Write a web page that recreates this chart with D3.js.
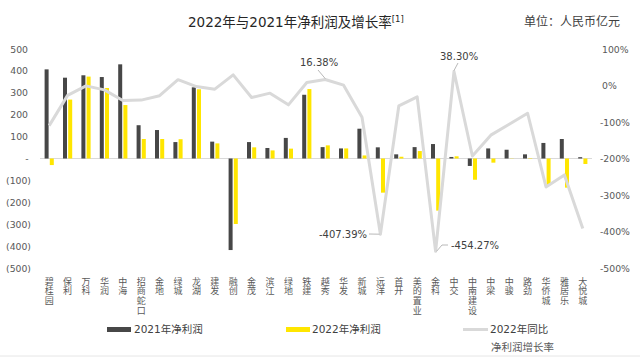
<!DOCTYPE html>
<html><head><meta charset="utf-8">
<script src="https://cdn.jsdelivr.net/npm/d3@7/dist/d3.min.js"></script>
<style>body{margin:0;background:#fff}svg{display:block}</style>
</head><body><svg id="c" width="640" height="357"></svg>
<script>
const categories = ["碧桂园","保利","万科","华润","中海","招商蛇口","金地","绿城","龙湖","建发","融创","金茂","滨江","绿地","铁建","越秀","华发","新城","远洋","首开","美的置业","金科","中交","中南建设","中梁","中骏","路劲","华侨城","雅居乐","大悦城"];
const profit2021 = [407,369,380,372,430,152,130,75,325,77,-418,75,48,94,291,52,46,136,51,19,52,66,7,-34,46,40,19,71,89,6];
const profit2022 = [-30,269,374,322,244,89,89,88,316,69,-299,51,37,45,317,60,46,14,-156,8,34,-238,10,-97,-19,-1,-2,-120,-133,-25];
const growth2022 = [-110,-27,-1,-12,-41,-40,-28,16,-3,-10,29,-33,-21,-53,8,16.38,1,-87,-407.39,-56,-31,-454.27,38.30,-193,-136,-106,-76,-278,-245,-392];
const leftTicks = [500,400,300,200,100,0,-100,-200,-300,-400,-500];
const rightTicks = [100,0,-100,-200,-300,-400,-500];

const svg = d3.select("#c");
const FONT = "'DejaVu Sans', Verdana, 'Noto Sans CJK SC', sans-serif";
const CJK = "'Noto Sans CJK SC', sans-serif";
const x = d3.scaleBand().domain(categories).range([40, 592]).padding(0);
const yL = d3.scaleLinear().domain([-500, 500]).range([268, 49]);
const yR = d3.scaleLinear().domain([-500, 100]).range([268, 49]);
const cx = d => x(d) + x.bandwidth()/2;

// title
svg.append("text").attr("x", 188).attr("y", 26.5).attr("font-family", FONT).attr("font-size", 13.5).attr("fill", "#262626")
  .text("2022年与2021年净利润及增长率")
  .append("tspan").attr("dy", -5).attr("font-size", 8.5).text("[1]");
svg.append("text").attr("x", 620).attr("y", 26).attr("text-anchor", "end").attr("font-family", CJK).attr("font-size", 12).attr("fill", "#404040")
  .text("单位：人民币亿元");

// left axis labels
const fmtL = v => v === 0 ? "-" : (v < 0 ? `(${-v})` : `${v}`);
svg.append("g").selectAll("text").data(leftTicks).join("text")
  .attr("x", d => d === 0 ? 27 : (d < 0 ? 31 : 28))
  .attr("y", d => yL(d) + 3.5)
  .attr("text-anchor", d => d === 0 ? "middle" : "end")
  .attr("font-family", FONT).attr("font-size", 9.3).attr("fill", "#595959")
  .text(fmtL);

// right axis labels
svg.append("g").selectAll("text").data(rightTicks).join("text")
  .attr("x", d => d < 0 ? 600 : 602)
  .attr("y", d => yR(d) + 3.5)
  .attr("font-family", FONT).attr("font-size", 9.3).attr("fill", "#595959")
  .text(d => d + "%");

// baseline
svg.append("line").attr("x1", 40).attr("x2", 592).attr("y1", yL(0)).attr("y2", yL(0))
  .attr("stroke", "#d9d9d9").attr("stroke-width", 1);

// bars
svg.append("g").selectAll("rect").data(categories).join("rect")
  .attr("x", d => cx(d) - 4.6).attr("width", 4)
  .attr("y", (d,i) => Math.min(yL(profit2021[i]), yL(0)))
  .attr("height", (d,i) => Math.abs(yL(profit2021[i]) - yL(0)))
  .attr("fill", "#474747");
svg.append("g").selectAll("rect").data(categories).join("rect")
  .attr("x", d => cx(d) + 0.6).attr("width", 4)
  .attr("y", (d,i) => Math.min(yL(profit2022[i]), yL(0)))
  .attr("height", (d,i) => Math.abs(yL(profit2022[i]) - yL(0)))
  .attr("fill", "#ffe600");

// line
const line = d3.line().x((d,i) => cx(categories[i])).y(d => yR(d));
svg.append("path").datum(growth2022).attr("d", line)
  .attr("fill", "none").attr("stroke", "#d9d9d9").attr("stroke-width", 3).attr("stroke-linejoin", "round");

// data labels
const lab = svg.append("g").attr("font-family", FONT).attr("font-size", 10).attr("fill", "#404040");
function leader(pts){ lab.append("path").attr("d", d3.line()(pts)).attr("fill","none").attr("stroke","#a6a6a6").attr("stroke-width",0.8); }
{
  const px = cx(categories[15]), py = yR(growth2022[15]);
  lab.append("text").attr("x", 300).attr("y", 65.5).text("16.38%");
  leader([[318,70],[px,py-1]]);
}
{
  const px = cx(categories[18]), py = yR(growth2022[18]);
  lab.append("text").attr("x", 319).attr("y", 237.5).text("-407.39%");
  leader([[369,234],[px-1,py]]);
}
{
  const px = cx(categories[22]), py = yR(growth2022[22]);
  lab.append("text").attr("x", 440).attr("y", 59.5).text("38.30%");
  leader([[458,63],[px,py-1]]);
}
{
  const px = cx(categories[21]), py = yR(growth2022[21]);
  lab.append("text").attr("x", 451).attr("y", 248.5).text("-454.27%");
  leader([[448,245],[442,245],[px+1,py]]);
}

// x labels (stacked characters)
const xl = svg.append("g").attr("font-family", CJK).attr("font-size", 9).attr("fill", "#595959");
categories.forEach(c => {
  Array.from(c).forEach((ch, k) => {
    xl.append("text").attr("text-anchor", "middle")
      .attr("x", cx(c)).attr("y", 284.5 + k*9.8).text(ch);
  });
});

// legend
const lg = svg.append("g");
lg.append("rect").attr("x", 107).attr("y", 327).attr("width", 24).attr("height", 5).attr("fill", "#474747");
lg.append("text").attr("x", 134).attr("y", 333).attr("font-family", FONT).attr("font-size", 10.5).attr("fill", "#404040").text("2021年净利润");
lg.append("rect").attr("x", 286).attr("y", 327).attr("width", 24).attr("height", 5).attr("fill", "#ffe600");
lg.append("text").attr("x", 312).attr("y", 333).attr("font-family", FONT).attr("font-size", 10.5).attr("fill", "#404040").text("2022年净利润");
lg.append("line").attr("x1", 463).attr("x2", 488).attr("y1", 329.5).attr("y2", 329.5).attr("stroke", "#d9d9d9").attr("stroke-width", 3);
lg.append("text").attr("x", 490).attr("y", 333).attr("font-family", FONT).attr("font-size", 10.5).attr("fill", "#404040").text("2022年同比");
lg.append("text").attr("x", 491).attr("y", 350.5).attr("font-family", CJK).attr("font-size", 10.5).attr("fill", "#595959").text("净利润增长率");

svg.append("line").attr("x1", 0).attr("x2", 640).attr("y1", 356).attr("y2", 356).attr("stroke", "#e6e6e6").attr("stroke-width", 1);
</script></body></html>
